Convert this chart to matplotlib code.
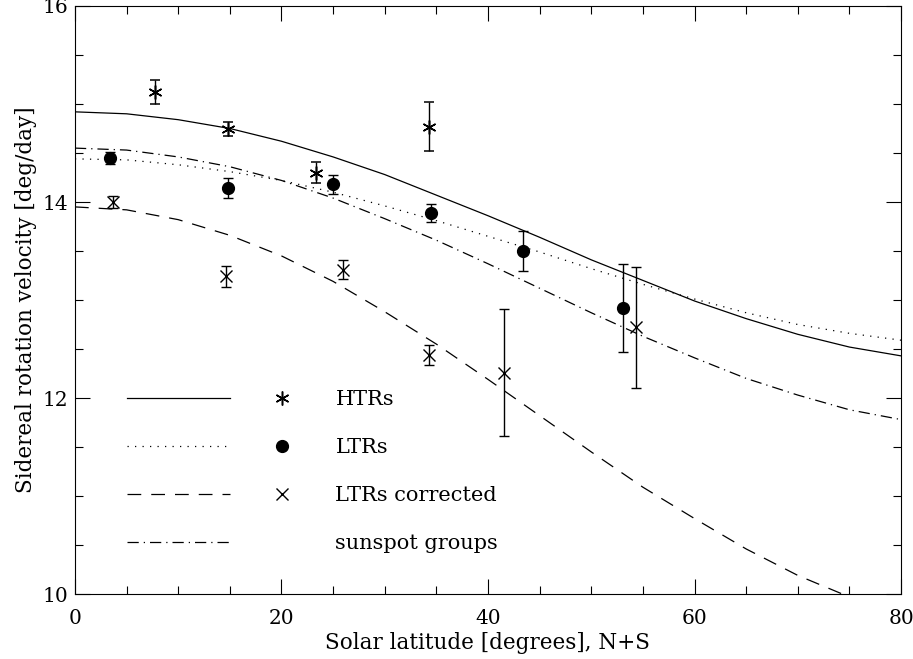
"""Sidereal rotation velocity vs solar latitude: HTRs, LTRs, corrected LTRs and sunspot fit."""
import matplotlib
matplotlib.use("Agg")
import matplotlib.pyplot as plt
from matplotlib.lines import Line2D
from matplotlib.legend_handler import HandlerTuple
from matplotlib.ticker import MultipleLocator

# measured points
htr_lat = [7.75, 14.85, 23.3, 34.25]
htr_vel = [15.12, 14.745, 14.30, 14.77]
htr_err = [0.125, 0.075, 0.11, 0.25]

ltr_lat = [3.39, 14.85, 25.0, 34.45, 43.36, 53.1]
ltr_vel = [14.45, 14.14, 14.18, 13.885, 13.50, 12.915]
ltr_err = [0.06, 0.10, 0.097, 0.092, 0.205, 0.45]

ltrc_lat = [3.65, 14.6, 26.0, 34.3, 41.55, 54.33]
ltrc_vel = [14.00, 13.24, 13.31, 12.44, 12.26, 12.72]
ltrc_err = [0.065, 0.105, 0.095, 0.10, 0.65, 0.62]

fit_lat = [0, 5, 10, 15, 20, 25, 30, 35, 40, 45, 50, 55, 60, 65, 70, 75, 80]
fit_htr = [14.92, 14.90, 14.84, 14.75, 14.62, 14.46, 14.28, 14.07, 13.86,
           13.64, 13.41, 13.20, 12.99, 12.81, 12.65, 12.52, 12.43]
fit_ltr = [14.44, 14.43, 14.38, 14.31, 14.22, 14.10, 13.96, 13.81, 13.65,
           13.49, 13.32, 13.16, 13.01, 12.87, 12.75, 12.66, 12.59]
fit_ltrc = [13.95, 13.92, 13.82, 13.66, 13.45, 13.19, 12.88, 12.55, 12.19,
            11.82, 11.45, 11.09, 10.77, 10.46, 10.19, 9.97, 9.82]
fit_spot = [14.55, 14.53, 14.46, 14.36, 14.22, 14.04, 13.83, 13.61, 13.37,
            13.12, 12.87, 12.63, 12.41, 12.20, 12.03, 11.88, 11.78]

plt.rcParams["font.family"] = ["DejaVu Serif"]

fig = plt.figure(figsize=(9.13, 6.59), dpi=100)
ax = fig.add_axes([0.0821, 0.0986, 0.9048, 0.8923])

lw = 0.9
dotted = (0, (1, 5))
dashed = (0, (11, 8))
dashdot = (0, (9, 4, 1, 4))

l_htr, = ax.plot(fit_lat, fit_htr, color="black", lw=lw, ls="-")
l_ltr, = ax.plot(fit_lat, fit_ltr, color="black", lw=lw, ls=dotted)
l_ltrc, = ax.plot(fit_lat, fit_ltrc, color="black", lw=lw, ls=dashed)
l_spot, = ax.plot(fit_lat, fit_spot, color="black", lw=lw, ls=dashdot)

ekw = dict(ls="none", ecolor="black", elinewidth=1.0, capsize=3.6, capthick=1.0, color="black")
ax.errorbar(htr_lat, htr_vel, yerr=htr_err, marker=(6, 2, 0), ms=10, mew=1.1, **ekw)
ax.errorbar(ltr_lat, ltr_vel, yerr=ltr_err, marker="o", ms=8.5, **ekw)
ax.errorbar(ltrc_lat, ltrc_vel, yerr=ltrc_err, marker="x", ms=9, mew=1.0, **ekw)

m_htr = Line2D([], [], ls="none", marker=(6, 2, 0), ms=10, mew=1.1, color="black")
m_ltr = Line2D([], [], ls="none", marker="o", ms=8.5, color="black")
m_ltrc = Line2D([], [], ls="none", marker="x", ms=9, mew=1.0, color="black")
m_none = Line2D([], [], ls="none", marker="")

ax.legend([(l_htr, m_htr), (l_ltr, m_ltr), (l_ltrc, m_ltrc), (l_spot, m_none)],
          ["HTRs", "LTRs", "LTRs corrected", "sunspot groups"],
          handler_map={tuple: HandlerTuple(ndivide=2, pad=0.0)},
          loc="lower left", bbox_to_anchor=(0.053, 0.055), frameon=False,
          fontsize=15, handlelength=9.9, handletextpad=0.1,
          labelspacing=1.4, borderaxespad=0)

ax.set_xlim(0, 80)
ax.set_ylim(10, 16)
ax.xaxis.set_major_locator(MultipleLocator(20))
ax.xaxis.set_minor_locator(MultipleLocator(5))
ax.yaxis.set_major_locator(MultipleLocator(2))
ax.yaxis.set_minor_locator(MultipleLocator(0.5))
ax.tick_params(which="both", direction="in", top=True, right=True, width=0.8)
ax.tick_params(which="major", length=11)
ax.tick_params(which="minor", length=5.5)
ax.tick_params(axis="x", pad=11, labelsize=14.5)
ax.tick_params(axis="y", pad=5, labelsize=14.5)
for s in ax.spines.values():
    s.set_linewidth(0.8)

ax.set_xlabel("Solar latitude [degrees], N+S", fontsize=15.5, labelpad=3)
ax.set_ylabel("Sidereal rotation velocity [deg/day]", fontsize=15.5, labelpad=4)

fig.savefig("out.png", dpi=100)
